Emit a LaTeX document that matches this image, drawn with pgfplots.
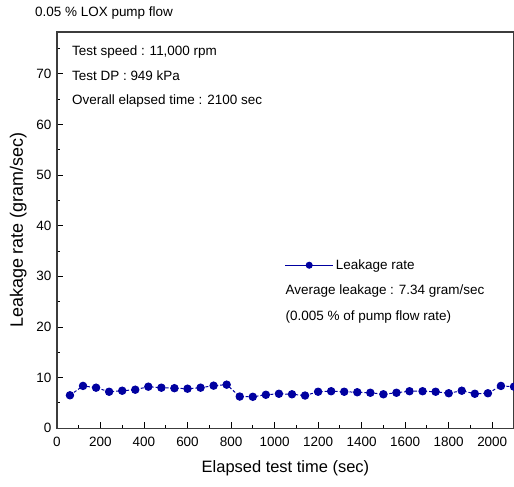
\documentclass[border=0pt]{standalone}
\usepackage{fontspec}
\setmainfont{Liberation Sans}
\usepackage{pgfplots}
\pgfplotsset{compat=1.18}
\usetikzlibrary{calc}
\definecolor{leakBlue}{RGB}{0, 0, 160}
\definecolor{axisGray}{RGB}{60, 60, 60}

\begin{document}
\begin{tikzpicture}
\begin{axis}[
    scale only axis,
    width=458pt, height=397pt,
    xmin=0, xmax=2100, ymin=0, ymax=78.3,
    xtick={0,200,...,2000}, minor xtick={100,300,...,2100},
    ytick={0,10,...,70}, minor ytick={5,15,...,75},
    xtick pos=bottom, ytick pos=left,
    tick align=inside,
    major tick length=6pt, minor tick length=3.5pt,
    axis line style={axisGray, line width=1.3pt},
    tick style={black, line width=0.9pt},
    /pgf/number format/assume math mode=true,
    /pgf/number format/set thousands separator={},
    ticklabel style={font=\fontsize{13.5}{15}\selectfont},
    xticklabel style={yshift=-5pt},
    yticklabel style={xshift=-2pt},
    xlabel={Elapsed test time (sec)},
    ylabel={Leakage rate (gram/sec)},
    xlabel style={font=\fontsize{16.5}{18}\selectfont, yshift=-8pt},
    ylabel style={font=\fontsize{18}{20}\selectfont, yshift=3pt},
    clip=false,
    legend style={draw=none, fill=none, at={(axis cs:1045,32.2)}, anchor=west,
        font=\fontsize{13.5}{15}\selectfont, inner sep=0pt},
    legend image code/.code={
        \draw[#1, solid, mark=none, line width=1.4pt] (0pt,0pt) -- (48pt,0pt);
        \draw[#1, only marks, mark size=3pt] plot coordinates {(24pt,0pt)};
    },
]
\addplot[color=leakBlue, line width=1pt, dash pattern=on 3pt off 2pt,
    mark=*, mark size=3.7pt, mark options={solid, fill=leakBlue}] coordinates {
    (60,6.5)(120,8.35)(180,8.0)(240,7.2)(300,7.4)(360,7.6)(420,8.2)
    (480,8.0)(540,7.9)(600,7.8)(660,8.0)(720,8.4)(780,8.6)(840,6.25)
    (900,6.2)(960,6.6)(1020,6.8)(1080,6.7)(1140,6.45)(1200,7.2)(1260,7.3)
    (1320,7.2)(1380,7.1)(1440,7.0)(1500,6.7)(1560,7.0)(1620,7.3)(1680,7.3)
    (1740,7.2)(1800,6.9)(1860,7.4)(1920,6.8)(1980,6.9)(2040,8.35)(2100,8.2)
};
\addlegendentry{Leakage rate}
\node[anchor=west, font=\fontsize{13.5}{15}\selectfont, inner sep=0pt] at (axis cs:1050,27.1) {Average leakage : 7.34 gram/sec};
\node[anchor=west, font=\fontsize{13.5}{15}\selectfont, inner sep=0pt] at (axis cs:1050,22.0) {(0.005 \% of pump flow rate)};
\node[anchor=west, font=\fontsize{13.5}{15}\selectfont, inner sep=0pt] at (axis cs:69,74.3) {Test speed : 11,000 rpm};
\node[anchor=west, font=\fontsize{13.5}{15}\selectfont, inner sep=0pt] at (axis cs:69,69.6) {Test DP : 949 kPa};
\node[anchor=west, font=\fontsize{13.5}{15}\selectfont, inner sep=0pt] at (axis cs:69,64.7) {Overall elapsed time : 2100 sec};
\coordinate (ll) at (rel axis cs:0,0);
\coordinate (ur) at (rel axis cs:1,1);
\end{axis}
\node[anchor=west, font=\fontsize{13.5}{15}\selectfont, inner sep=0pt] at ($(ll|-ur)+(-22pt,19pt)$) {0.05 \% LOX pump flow};
\pgfresetboundingbox
\path ($(ll)+(-57pt,-58pt)$) rectangle ($(ur)+(0pt,32pt)$);
\end{tikzpicture}
\end{document}
